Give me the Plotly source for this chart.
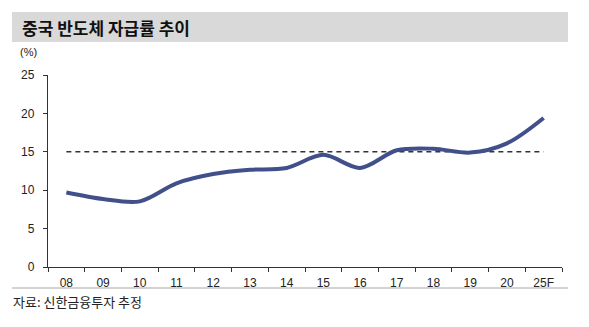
import plotly.graph_objects as go

categories = ["08", "09", "10", "11", "12", "13", "14", "15", "16", "17", "18", "19", "20", "25F"]
self_sufficiency = [9.7, 8.85, 8.55, 10.9, 12.1, 12.65, 12.9, 14.6, 12.9, 15.2, 15.4, 14.9, 16.1, 19.4]
reference_level = [15] * len(categories)
y_ticks = [0, 5, 10, 15, 20, 25]

title_text = "중국 반도체 자급률 추이"
unit_text = "(%)"
source_text = "자료: 신한금융투자 추정"

W, H = 589, 327
L, R, T, B = 48, 27, 75, 60

fig = go.Figure()
fig.add_trace(go.Scatter(
    x=categories, y=reference_level, mode="lines",
    line=dict(color="#333333", width=1.6, dash="5px,4px"),
    hoverinfo="skip", showlegend=False,
))
fig.add_trace(go.Scatter(
    x=categories, y=self_sufficiency, mode="lines",
    line=dict(color="#41508b", width=4, shape="spline", smoothing=0.9),
    showlegend=False,
))

font_num = "Liberation Sans, Arial, sans-serif"
font_kr = "Noto Sans CJK KR, sans-serif"

fig.update_layout(
    width=W, height=H,
    margin=dict(l=L, r=R, t=T, b=B, pad=0),
    paper_bgcolor="white", plot_bgcolor="white",
    xaxis=dict(
        type="category", range=[-0.5, len(categories) - 0.5],
        tickson="boundaries", ticks="outside", ticklen=4, tickcolor="#333333",
        showline=True, linecolor="#333333", linewidth=1.3,
        showgrid=False, zeroline=False,
        tickfont=dict(family=font_num, size=12, color="#222222"),
        ticklabelstandoff=4,
    ),
    yaxis=dict(
        range=[0, 25], tickvals=y_ticks, ticktext=[str(v) for v in y_ticks],
        ticks="outside", ticklen=4, tickcolor="#333333",
        showline=True, linecolor="#333333", linewidth=1.3,
        showgrid=False, zeroline=False,
        tickfont=dict(family=font_num, size=12, color="#222222"),
        ticklabelstandoff=6,
    ),
    shapes=[
        dict(type="rect", xref="paper", yref="paper",
             x0=(12 - L) / (W - L - R), x1=(568 - L) / (W - L - R),
             y0=(H - B - 42) / (H - T - B), y1=(H - B - 12) / (H - T - B),
             fillcolor="#d9d9d9", line=dict(width=0), layer="below"),
        dict(type="line", xref="paper", yref="paper",
             x0=(12 - L) / (W - L - R), x1=(568 - L) / (W - L - R),
             y0=(H - B - 288) / (H - T - B), y1=(H - B - 288) / (H - T - B),
             line=dict(color="#a6a6a6", width=1)),
    ],
    annotations=[
        dict(text="<b>" + title_text + "</b>", xref="paper", yref="paper",
             x=(20 - L) / (W - L - R), y=(H - B - 27) / (H - T - B),
             xanchor="left", yanchor="middle", showarrow=False,
             font=dict(family=font_kr, size=17, color="#111111")),
        dict(text=unit_text, xref="paper", yref="paper",
             x=(18 - L) / (W - L - R), y=(H - B - 52) / (H - T - B),
             xanchor="left", yanchor="middle", showarrow=False,
             font=dict(family=font_num, size=11, color="#222222")),
        dict(text=source_text, xref="paper", yref="paper",
             x=(11 - L) / (W - L - R), y=(H - B - 301) / (H - T - B),
             xanchor="left", yanchor="middle", showarrow=False,
             font=dict(family=font_kr, size=13, color="#222222")),
    ],
)

fig.write_html("out.html")
